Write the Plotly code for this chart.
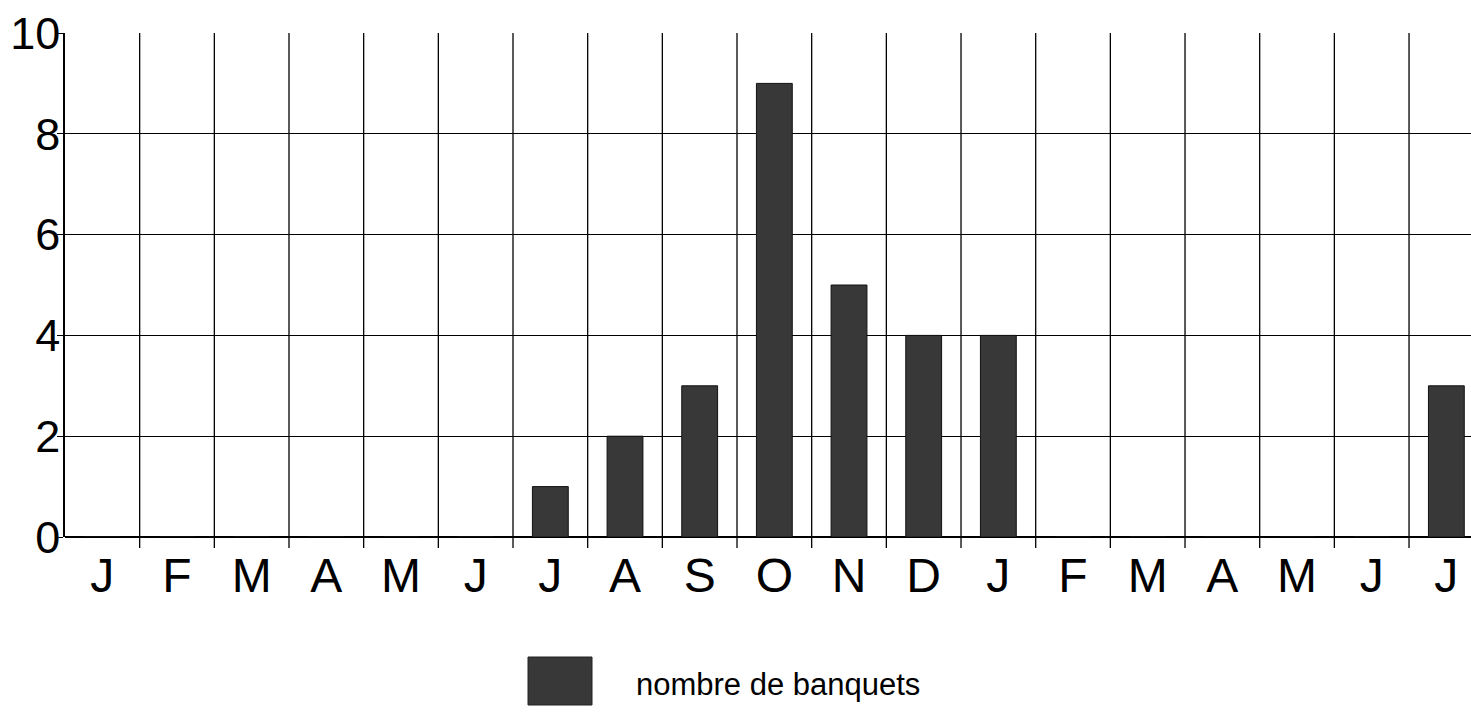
import plotly.graph_objects as go

months = ["J", "F", "M", "A", "M", "J", "J", "A", "S", "O", "N", "D",
          "J", "F", "M", "A", "M", "J", "J"]
banquets = [0, 0, 0, 0, 0, 0, 1, 2, 3, 9, 5, 4, 4, 0, 0, 0, 0, 0, 3]
series_name = "nombre de banquets"
y_ticks = [0, 2, 4, 6, 8, 10]

x_idx = list(range(len(months)))

fig = go.Figure()
fig.add_trace(go.Bar(
    x=x_idx, y=banquets, name=series_name,
    marker=dict(color="#383838", line=dict(color="#111111", width=1)),
    width=0.48, showlegend=False,
))

fig.update_layout(
    width=1471, height=712,
    margin=dict(l=65, r=0, t=33, b=175),
    paper_bgcolor="white", plot_bgcolor="white",
    font=dict(family="Liberation Sans, Arial, sans-serif", color="black"),
    xaxis=dict(
        range=[-0.5, 18.33],
        tickmode="array", tickvals=x_idx, ticktext=months,
        showgrid=False, zeroline=False,
        ticks="", tickfont=dict(size=48),
        ticklabelstandoff=6,
        showline=False,
    ),
    yaxis=dict(
        range=[0, 10], tickvals=y_ticks,
        showgrid=True, gridcolor="black", gridwidth=1.3,
        zeroline=True, zerolinecolor="black", zerolinewidth=1.5,
        showline=True, linecolor="black", linewidth=1.5,
        ticks="outside", ticklen=6, tickcolor="black", tickwidth=1.3,
        tickfont=dict(size=45),
        ticklabelstandoff=-12,
    ),
    bargap=0.52,
)

# vertical grid lines at category boundaries, extending below the axis as ticks
for i in range(1, len(months)):
    fig.add_shape(type="line", xref="x", yref="paper",
                  x0=i - 0.5, x1=i - 0.5, y0=-0.022, y1=1,
                  line=dict(color="black", width=1.3), layer="below")

# legend (drawn manually to get the large swatch)
fig.add_shape(type="rect", xref="paper", yref="paper",
              x0=(528 - 65) / 1406, x1=(592 - 65) / 1406,
              y0=-(705 - 537) / 504, y1=-(657 - 537) / 504,
              fillcolor="#383838", line=dict(color="#222222", width=1))
fig.add_annotation(xref="paper", yref="paper",
                   x=(634 - 65) / 1406, y=-(684 - 537) / 504,
                   xanchor="left", yanchor="middle", showarrow=False,
                   text=series_name,
                   font=dict(size=31))

fig.write_html("out.html")
